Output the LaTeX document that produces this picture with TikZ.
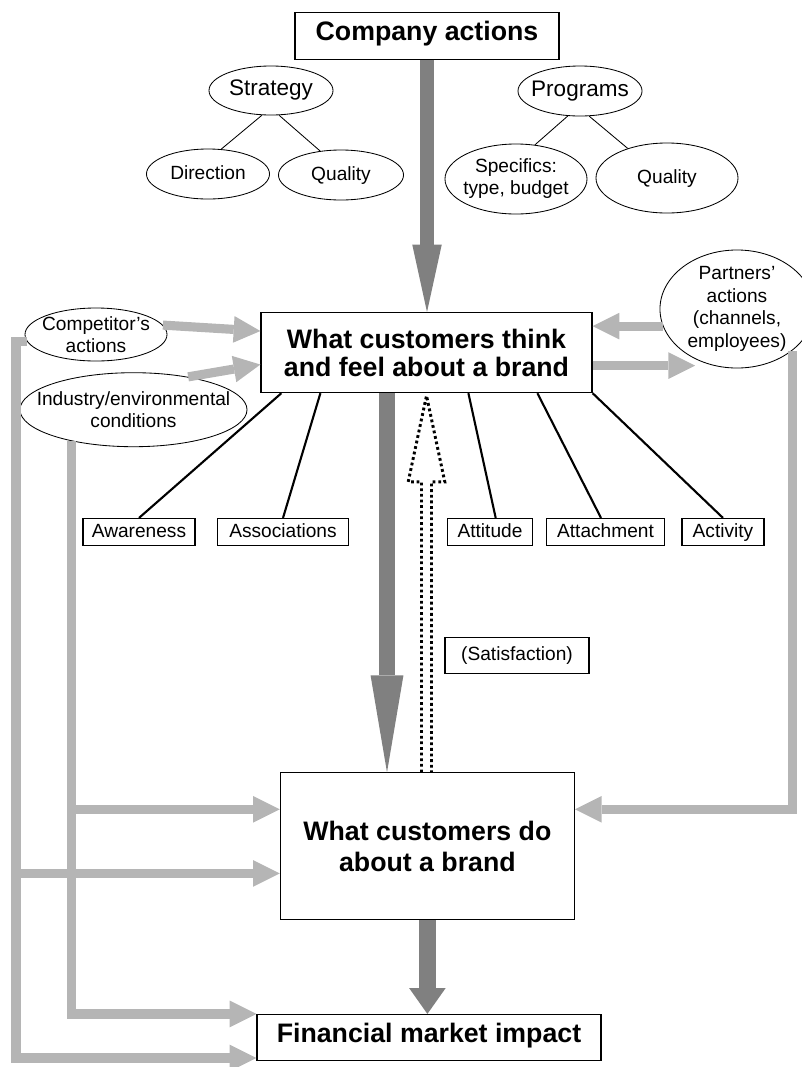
\documentclass[tikz,border=0pt]{standalone}
\usepackage{fontspec}
\setmainfont{Liberation Sans}
\usetikzlibrary{shapes.geometric,arrows.meta,calc}
\definecolor{darkarrow}{gray}{0.5}
\definecolor{lightarrow}{gray}{0.71}

\begin{document}
\begin{tikzpicture}[x=0.025cm, y=-0.025cm,
        box/.style = {draw, line width=0.8pt, inner sep=0pt, align=center},
        oval/.style = {draw, ellipse, line width=0.6pt, inner sep=-20pt, align=center, font=\fontsize{13.6}{15.6}\selectfont},
        tag/.style = {box, one, minimum height=0.675cm, font=\fontsize{13.6}{15.6}\selectfont},
        one/.style = {text height=0.716em, text depth=0pt},
        big/.style = {font=\fontsize{19}{20}\selectfont\bfseries},
        link/.style = {line width=1.5pt},
        thin/.style = {line width=0.6pt},
        feed/.style = {draw=lightarrow, line width=6.5pt, -{Triangle[length=19pt,width=19pt,line width=0pt]}},
        dark/.style = {draw=darkarrow, line width=10.6pt},
        satis/.style = {line width=2.1pt, dash pattern=on 2pt off 2pt}]
        \useasboundingbox (0,0) rectangle (802,1067);
        \clip (0,0) rectangle (802,1067);
        \node[box, big, one, minimum width=6.6cm, minimum height=1.175cm] (company) at (427,35.7) {Company actions};
        \node[oval, one, minimum width=3.1cm, minimum height=1.225cm, font=\fontsize{16}{18}\selectfont] (strategy) at (271,90.5) {Strategy};
        \node[oval, one, minimum width=3.075cm, minimum height=1.25cm] (direction) at (208,174) {Direction};
        \node[oval, one, minimum width=3.125cm, minimum height=1.25cm] (qualityS) at (341,175) {Quality};
        \node[oval, one, minimum width=3.1cm, minimum height=1.25cm, font=\fontsize{16}{18}\selectfont] (programs) at (580,91) {Programs};
        \node[oval, minimum width=3.55cm, minimum height=1.75cm] (specifics) at (516,179) {Specifics:\\type, budget};
        \node[oval, one, minimum width=3.55cm, minimum height=1.75cm] (qualityP) at (667,178) {Quality};
        \node[box, big, minimum width=8.275cm, minimum height=2cm] (think) at (426.5,352.6) {What customers think\\and feel about a brand};
        \node[oval, minimum width=3.55cm, minimum height=1.325cm] (competitor) at (96,334.5) {Competitor's\\actions};
        \node[oval, minimum width=5.675cm, minimum height=1.85cm] (industry) at (133.5,409.7) {Industry/environmental\\conditions};
        \node[oval, minimum width=3.85cm, minimum height=2.95cm, font=\fontsize{13.6}{16}\selectfont] (partners) at (737,309) {Partners'\\actions\\(channels,\\employees)};
        \node[tag, minimum width=2.8cm] (awareness) at (139,532) {Awareness};
        \node[tag, minimum width=3.275cm] (associations) at (283,532) {Associations};
        \node[tag, minimum width=2.125cm] (attitude) at (490,532) {Attitude};
        \node[tag, minimum width=2.95cm] (attachment) at (605.5,532) {Attachment};
        \node[tag, minimum width=2.05cm] (activity) at (723,532) {Activity};
        \node[tag, minimum width=3.6cm, minimum height=0.9cm] (satisfaction) at (517,655.5) {(Satisfaction)};
        \node[box, minimum width=7.35cm, minimum height=3.675cm, font=\fontsize{19}{22.7}\selectfont\bfseries] (do) at (427.4,846.4) {What customers do\\about a brand};
        \node[box, big, one, minimum width=8.6cm, minimum height=1.15cm] (fin) at (429,1037.5) {Financial market impact};
        \draw[thin] (strategy.250) -- (direction.62);
        \draw[thin] (strategy.288) -- (qualityS.131);
        \draw[thin] (programs.244) -- (specifics.61);
        \draw[thin] (programs.290) -- (qualityP.143);
        \draw[link] ($(think.south west)+(21,0)$) -- (awareness.north);
        \draw[link] ($(think.south west)+(60,0)$) -- (associations.north);
        \draw[link] ($(think.south west)+(208,0)$) -- ($(attitude.north)+(5.7,0)$);
        \draw[link] ($(think.south west)+(277,0)$) -- ($(attachment.north)+(-4.5,0)$);
        \draw[link] (think.south east) -- (activity.north);
        \draw[dark, -{Triangle[length=48pt,width=21pt,line width=0pt]}] (company.south) -- (company.south |- think.north);
        \coordinate (downTop) at ($(think.south)+(-39.5,0)$);
        \draw[dark, line width=11.3pt, -{Triangle[length=69pt,width=23.4pt,line width=0pt]}] (downTop) -- (downTop |- do.north);
        \draw[dark, line width=12.5pt, -{Triangle[length=18.4pt,width=26pt,line width=0pt]}] (do.south) -- (do.south |- fin.north);
        \coordinate (satBot) at (think.south |- do.north);
        \coordinate (satHead) at ($(think.south)!0.234!(satBot)$);
        \draw[satis] ($(satBot)+(-5,0)$) -- ($(satHead)+(-5,0)$) -- ($(satHead)+(-18.3,0)$) -- ($(think.south)+(0,2.5)$) -- ($(satHead)+(18.3,0)$) -- ($(satHead)+(5,0)$) -- ($(satBot)+(5,0)$);
        \draw[feed] (competitor.8) -- ($(think.north west)+(0,19)$);
        \draw[feed] (industry.31) -- ($(think.north west)+(0,52.5)$);
        \draw[feed] (partners.193) -- (partners.193 -| think.east);
        \coordinate (thinkOut) at ($(think.east)+(0,13)$);
        \draw[feed] (thinkOut) -- (thinkOut -| partners.230);
        \coordinate (doR) at ($(do.north east)+(0,37)$);
        \draw[feed] (partners.-37) |- (doR);
        \coordinate (doL1) at ($(do.north west)+(0,37)$);
        \coordinate (doL2) at ($(do.west)+(0,27)$);
        \draw[feed] (industry.207) |- (doL1);
        \draw[feed] (industry.207) |- (fin.north west);
        \coordinate (outer) at (16,1058);
        \draw[feed] (competitor.186) -| (outer) -- (outer -| fin.west);
        \draw[feed] (outer |- doL2) -- (doL2);
\end{tikzpicture}
\end{document}
